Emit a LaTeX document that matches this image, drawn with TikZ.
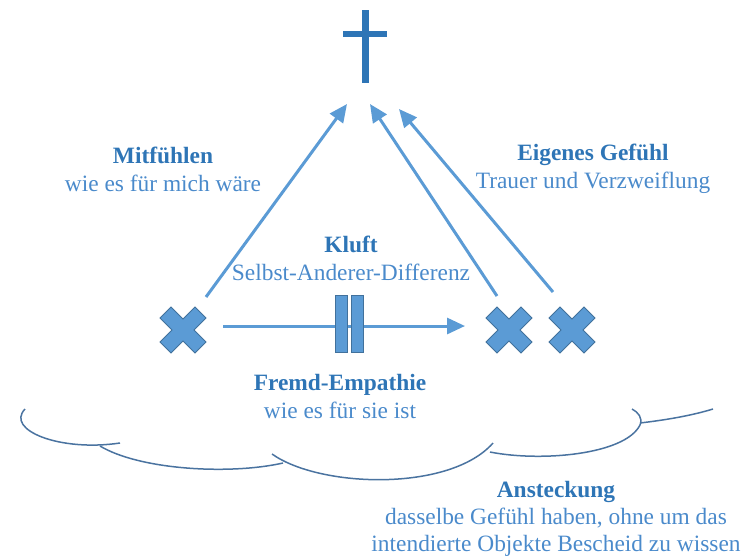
\documentclass[tikz,border=0pt]{standalone}
\usepackage{fontspec}
\setmainfont{Liberation Serif}
\usepackage{xcolor}
\usetikzlibrary{arrows.meta}
\definecolor{arrowblue}{HTML}{5B9BD5}
\definecolor{crossblue}{HTML}{2E75B6}
\definecolor{xfill}{HTML}{5B9BD5}
\definecolor{xdraw}{HTML}{41719C}
\definecolor{cloudline}{HTML}{4A73A0}
\definecolor{ttlblue}{HTML}{2E75B6}
\definecolor{subblue}{HTML}{4A8ACB}
\tikzstyle{arrow} = [line width=1.5pt, arrowblue, -{Triangle[length=9pt,width=8pt]}]
\tikzstyle{lbl} = [align=center, text=subblue, inner sep=0pt, font=\fontsize{11.7}{14}\selectfont]
\tikzstyle{gapbar} = [fill=xfill, draw=xdraw, line width=0.5pt]
\tikzstyle{cloudarc} = [draw=cloudline, line width=0.75pt]
\tikzset{xmark/.pic={
    \draw[fill=xfill, draw=xdraw, line width=0.5pt] (0,11) -- (12,23) -- (23,12) -- (11,0) -- (23,-12) -- (12,-23)
        -- (0,-11) -- (-12,-23) -- (-23,-12) -- (-11,0) -- (-23,12) -- (-12,23) -- cycle;
}}
\begin{document}
\begin{tikzpicture}[x=0.5pt, y=-0.5pt]
    \useasboundingbox (0,0) rectangle (743,558);

    % Cross on top
    \fill[crossblue] (362,10) rectangle (369,83);
    \fill[crossblue] (343,31) rectangle (387,37);

    % Persons
    \coordinate (self) at (183,330);
    \coordinate (other) at (509,330);
    \coordinate (own) at (572,330);
    \pic at (self) {xmark};
    \pic at (other) {xmark};
    \pic at (own) {xmark};

    % Arrow end points
    \coordinate (selftail) at (206,297);
    \coordinate (selftip) at (347,104);
    \coordinate (othertail) at (497,296);
    \coordinate (othertip) at (370,104);
    \coordinate (owntail) at (553,292);
    \coordinate (owntip) at (399,109);
    \coordinate (gapstart) at (223,326);
    \coordinate (gapend) at (465,326);

    % Arrows
    \draw [arrow] (selftail) -- (selftip);
    \draw [arrow] (othertail) -- (othertip);
    \draw [arrow] (owntail) -- (owntip);
    \draw [arrow] (gapstart) -- (gapend);

    % Gap
    \draw [gapbar] (335,295) rectangle (347,352);
    \draw [gapbar] (351,295) rectangle (363,352);

    % Cloud
    \draw [cloudarc] (25,409) .. controls (5,430) and (60,452) .. (120,443);
    \draw [cloudarc] (100,446) .. controls (140,470) and (230,475) .. (283,463);
    \draw [cloudarc] (272,454) .. controls (320,488) and (450,492) .. (493,443);
    \draw [cloudarc] (490,452) .. controls (540,462) and (625,455) .. (640,425)
        .. controls (643,418) and (638,412) .. (632,409);
    \draw [cloudarc] (640,423) .. controls (665,420) and (690,416) .. (713,409);

    % Labels
    \node (mitf) [lbl] at (163,169) {\textbf{\textcolor{ttlblue}{Mitfühlen}}\\wie es für mich wäre};
    \node (eigen) [lbl] at (593,169) {\textbf{\textcolor{ttlblue}{Eigenes Gefühl}}\\Trauer und Verzweiflung};
    \node (kluft) [lbl] at (351,258.5) {\textbf{\textcolor{ttlblue}{Kluft}}\\Selbst-Anderer-Differenz};
    \node (fremd) [lbl] at (340,396.5) {\textbf{\textcolor{ttlblue}{Fremd-Empathie}}\\wie es für sie ist};
    \node (anst) [lbl, font=\fontsize{11.7}{13.6}\selectfont] at (556,519) {\textbf{\textcolor{ttlblue}{Ansteckung}}\\dasselbe Gefühl haben, ohne um das\\intendierte Objekte Bescheid zu wissen};
\end{tikzpicture}
\end{document}
